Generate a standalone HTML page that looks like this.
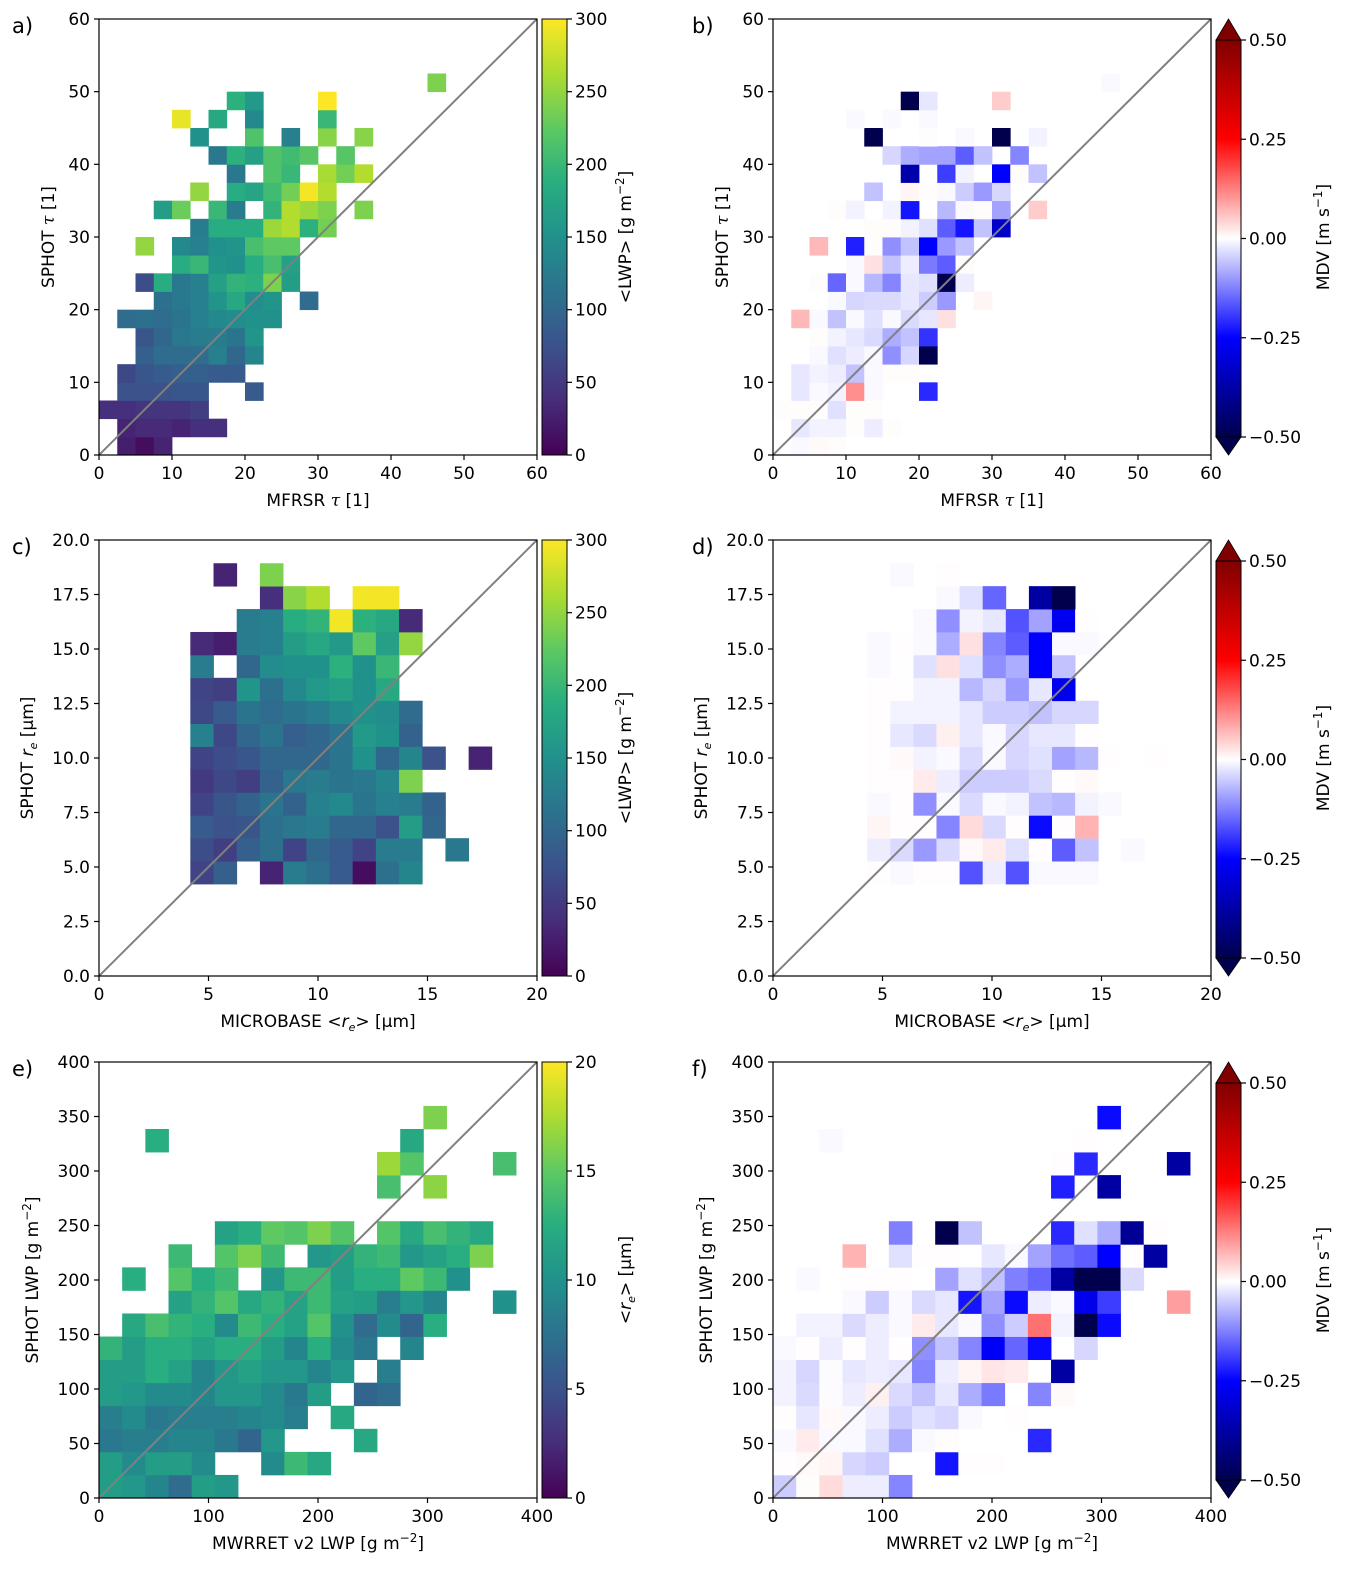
<!DOCTYPE html>
<html><head><meta charset="utf-8">
<style>
html,body{margin:0;padding:0;background:#fff;}
svg{display:block;font-family:"DejaVu Sans","Liberation Sans",sans-serif;}
</style></head>
<body>
<svg id="fig" xmlns="http://www.w3.org/2000/svg" width="1354" height="1580" viewBox="0 0 1354 1580"></svg>
<script>
// ---------- Panel a: mean LWP per (MFRSR tau, SPHOT tau) bin, rows from bottom ----------
const lwpTauRows = [
 [,25,10,30],
 [,30,35,35,30,40,40],
 [40,40,45,45,45,55],
 [,75,75,75,80,80,,,85],
 [,65,80,85,90,90,85,85],
 [,,90,105,105,105,130,100,135],
 [,,80,100,120,125,125,115,155],
 [,105,110,105,115,130,140,145,150,150],
 [,,,110,120,130,155,180,145,155,,105],
 [,,70,185,120,130,170,195,190,240,165],
 [,,,,185,200,155,150,185,210,170],
 [,,250,,140,130,150,155,210,225,225],
 [,,,,,125,185,185,185,255,265,190,235],
 [,,,165,230,,200,125,,195,265,255,240,,240],
 [,,,,,250,,185,175,205,235,295,265],
 [,,,,,,,120,,215,200,,260,235,265],
 [,,,,,,120,190,170,215,205,220,,220],
 [,,,,,150,,,215,,130,,245,,245],
 [,,,,290,,180,,140,,,,200],
 [,,,,,,,190,160,,,,300],
 [,,,,,,,,,,,,,,,,,,240]
];
// ---------- Panel b: MDV per tau bin ----------
const mdvTauRows = [
 [,-0.006,0.005,0.003],
 [,-0.024,-0.012,-0.012,0.003,-0.018,0.003],
 [0.003,0.003,0.003,-0.03,0.003,0.003],
 [,-0.024,-0.006,-0.012,0.11,-0.006,,,-0.21],
 [,-0.024,-0.012,-0.018,-0.06,-0.006,0.003,0.003],
 [,,-0.006,-0.03,-0.018,-0.006,-0.11,-0.04,-0.5],
 [,,0.003,-0.012,-0.024,-0.036,-0.08,-0.06,-0.2],
 [,0.07,-0.006,-0.06,-0.006,-0.03,-0.006,-0.036,-0.024,0.03],
 [,,,-0.006,-0.04,-0.036,-0.036,-0.024,-0.05,-0.1,,0.01],
 [,,0.003,-0.15,-0.006,-0.07,-0.12,-0.024,-0.03,-0.5,-0.018],
 [,,,,-0.006,0.03,-0.06,-0.018,-0.13,-0.16,0.003],
 [,,0.07,,-0.22,0.003,-0.11,-0.06,-0.25,-0.1,-0.06],
 [,,,,,0.003,0.003,-0.012,-0.03,-0.16,-0.23,-0.06,-0.33],
 [,,,0.003,-0.012,,-0.012,-0.23,,-0.07,-0.006,0.003,-0.09,,0.05],
 [,,,,,-0.06,,0.01,0.003,-0.006,-0.05,-0.1,-0.04],
 [,,,,,,,-0.37,,-0.19,-0.012,,-0.25,0.003,-0.06],
 [,,,,,,-0.04,-0.08,-0.09,-0.09,-0.16,-0.06,,-0.12],
 [,,,,,-0.5,,,0.003,,-0.006,,-0.5,,-0.012],
 [,,,,-0.006,,-0.006,,-0.006],
 [,,,,,,,-0.5,-0.024,,,,0.05],
 [,,,,,,,,,,,,,,,,,,-0.006]
];
// ---------- Panel c: mean LWP per (MICROBASE re, SPHOT re) bin ----------
const lwpReRows = [
 [60,90,,30,125,110,85,10,110,135],
 [70,55,90,110,60,100,85,60,125,125,,120],
 [85,75,80,110,120,125,100,100,75,165,100],
 [60,80,95,115,95,130,140,115,130,125,95],
 [50,65,55,95,120,125,115,120,135,240],
 [60,70,80,100,100,100,115,150,100,135,75,,30],
 [130,65,100,115,90,100,115,160,150,95],
 [65,85,115,105,115,125,140,150,145,105],
 [60,55,155,110,140,160,170,150,180],
 [125,,100,145,150,150,190,150,200],
 [35,25,125,130,165,180,160,225,170,250],
 [,,125,130,185,195,295,190,180,35],
 [,,,40,245,265,,295,295],
 [,30,,240]
];
// ---------- Panel d: MDV per re bin ----------
const mdvReRows = [
 [0.002,-0.006,0.002,0.002,-0.17,-0.018,-0.17,-0.006,-0.006,-0.006],
 [-0.018,-0.036,-0.1,-0.036,0.006,0.02,-0.03,0.002,-0.16,-0.06,,-0.006],
 [0.01,0.002,0.002,-0.12,0.035,-0.036,0.002,-0.24,0.002,0.075],
 [-0.006,0.002,-0.11,-0.006,-0.036,-0.006,-0.012,-0.06,-0.07,-0.012,-0.006],
 [0.002,0.002,0.02,-0.018,-0.05,-0.05,-0.05,-0.036,0.002,0.006],
 [0.002,0.006,-0.012,-0.006,-0.036,-0.006,-0.04,-0.03,-0.09,-0.07,0.002,,0.002],
 [0.002,-0.024,-0.036,0.015,-0.024,-0.006,-0.04,-0.024,-0.024,0.002],
 [0.002,-0.012,-0.012,-0.012,-0.024,-0.05,-0.05,-0.06,-0.04,-0.04],
 [0.002,0.002,-0.012,-0.012,-0.07,-0.04,-0.1,-0.024,-0.27],
 [-0.006,0.001,-0.03,0.03,-0.03,-0.11,-0.08,-0.25,-0.06],
 [-0.006,0.002,-0.006,-0.08,0.03,-0.12,-0.16,-0.25,-0.006,-0.006],
 [,,-0.006,-0.11,-0.012,-0.024,-0.17,-0.09,-0.27,0.002],
 [,,,-0.006,-0.03,-0.15,,-0.38,-0.5],
 [,-0.006,,0.002]
];
// ---------- Panel e: mean re per (MWRRET LWP, SPHOT LWP) bin ----------
const reLwpRows = [
 [11,10.5,9,7,11,10.5],
 [11,9.5,11,11,9.5,,,9.5,13.5,12],
 [8,8.5,8.5,9,9,8,6.5,10.5,,,,12],
 [8.5,9.5,8,8.5,8.5,8.5,9,9.5,8.5,,12],
 [11,10.5,9.5,9.5,9,10.5,10.5,9.5,8,11,,6.5,7],
 [11,11,12.5,11.5,9,10.5,11.5,10.5,10.5,9,10.5,,8.5],
 [13,11,12.5,12.5,11.5,12.5,12.5,11,9,12.5,9.5,8,,9],
 [,12,14,13,12.5,9.5,13.5,12.5,11.5,14.5,10,7,9.5,6.5,12.5],
 [,,,11.5,13,14.5,12,13,11.5,13.5,11.5,11,8.5,10.5,9,,,10],
 [,12.5,,14.5,12.5,13.5,,10.5,13.5,13.5,11,12.5,12.5,15,13.5,10],
 [,,,13.5,,14.5,16,13.5,,10.5,11,13,13.5,10.5,11.5,12.5,16],
 [,,,,,11.5,12.5,15,14.5,16,14.5,,14.5,12,14,13,12],
 [],
 [,,,,,,,,,,,,14,,16.5],
 [,,,,,,,,,,,,17,14.5,,,,14],
 [,,12.5,,,,,,,,,,,12],
 [,,,,,,,,,,,,,,16]
];
// ---------- Panel f: MDV per LWP bin ----------
const mdvLwpRows = [
 [-0.05,0.003,0.035,-0.018,-0.018,-0.12],
 [0.002,0.006,0.01,-0.04,-0.05,,,-0.23,0.002,0.002],
 [-0.006,0.02,-0.006,-0.006,-0.03,-0.08,-0.006,0.003,,,,-0.21],
 [0.002,-0.024,0.006,-0.006,-0.018,-0.05,-0.03,-0.04,-0.006,,0.002],
 [-0.012,-0.036,-0.003,-0.018,0.015,-0.036,-0.06,-0.024,-0.08,-0.13,,-0.12,0.006],
 [-0.012,-0.04,-0.003,-0.024,-0.018,-0.024,-0.12,-0.018,0.01,0.025,0.02,,-0.38],
 [-0.006,0.002,-0.018,0.002,-0.018,0.002,-0.11,-0.06,-0.12,-0.26,-0.15,-0.24,,-0.04],
 [,-0.012,-0.012,-0.036,-0.018,-0.006,0.02,-0.024,-0.006,-0.11,-0.05,0.14,-0.012,-0.5,-0.24],
 [,,,-0.006,-0.05,-0.006,-0.036,-0.024,-0.23,-0.09,-0.24,-0.018,-0.006,-0.28,-0.19,,,0.095],
 [,-0.006,,0.002,0.002,0.002,,-0.09,-0.03,-0.06,-0.125,-0.15,-0.38,-0.5,-0.5,-0.036],
 [,,,0.075,,-0.03,0.002,0.002,,-0.024,-0.006,-0.09,-0.14,-0.16,-0.25,0.002,-0.38],
 [,,,,,-0.125,,-0.5,-0.06,,,,-0.21,-0.03,-0.08,-0.4,0.002],
 [],
 [,,,,,,,,,,,,-0.22,,-0.38],
 [,,,,,,,,,,,,0.002,-0.21,,,,-0.38],
 [,,-0.006,,,,,,,,,,,0.002],
 [,,,,,,,,,,,,,,-0.24]
];
// ---------- tick labels ----------
const tauTicks = [0,10,20,30,40,50,60];
const reXTicks = [0,5,10,15,20];
const reYTicks = [0,2.5,5,7.5,10,12.5,15,17.5,20];
const lwpXTicks = [0,100,200,300,400];
const lwpYTicks = [0,50,100,150,200,250,300,350,400];
const lwpCbarTicks = [0,50,100,150,200,250,300];
const reCbarTicks = [0,5,10,15,20];
const mdvCbarTicks = [-0.5,-0.25,0,0.25,0.5];

const NS = "http://www.w3.org/2000/svg";
const svg = document.getElementById('fig');
function mk(tag, attrs, parent){
  const e = document.createElementNS(NS, tag);
  for (const k in attrs) e.setAttribute(k, attrs[k]);
  (parent||svg).appendChild(e);
  return e;
}
function hex(c){return [parseInt(c.slice(1,3),16),parseInt(c.slice(3,5),16),parseInt(c.slice(5,7),16)];}
const VIR = ['#440154','#472d7b','#3b528b','#2c728e','#21918c','#28ae80','#5ec962','#addc30','#fde725'].map(hex);
const SEIS = [[0,0,77],[0,0,255],[255,255,255],[255,0,0],[128,0,0]];
function interp(stops, t){
  t = Math.max(0, Math.min(1, t));
  const n = stops.length-1, f = t*n, i = Math.min(n-1, Math.floor(f)), u = f-i;
  const a = stops[i], b = stops[i+1];
  return 'rgb(' + a.map((v,k)=>Math.round(v+(b[k]-v)*u)).join(',') + ')';
}
const viridis = t => interp(VIR, t);
const seismic = t => interp(SEIS, t);
function fmt(v, dec){ const s = v.toFixed(dec); return s.replace('-', '\u2212'); }

let gradId = 0;
function panel(p){
  const g = mk('g', {});
  
  
  const L = p.L, R = p.R, T = p.T, B = p.B;
  const sx = v => L + (v - p.xmin)/(p.xmax - p.xmin)*(R - L);
  const sy = v => B - (v - p.ymin)/(p.ymax - p.ymin)*(B - T);
  const cid = 'clip' + p.name;
  const cp = mk('clipPath', {id: cid}, g);
  mk('rect', {x:L, y:T, width:R-L, height:B-T}, cp);
  const cells = mk('g', {'clip-path':'url(#'+cid+')'}, g);
  
  
  p.rows.forEach((row, r) => {
    for (let c = 0; c < row.length; c++){
      const v = row[c];
      if (v == null) continue;
      const x1 = sx(p.x0 + c*p.dx), x2 = sx(p.x0 + (c+1)*p.dx);
      const y1 = sy(p.y0 + (r+1)*p.dy), y2 = sy(p.y0 + r*p.dy);
      const rect = mk('rect', {x:x1.toFixed(2), y:y1.toFixed(2), width:(x2-x1+0.4).toFixed(2), height:(y2-y1+0.4).toFixed(2), fill:p.cmap((v - p.vmin)/(p.vmax - p.vmin))}, cells);
      
      
    }
  });
  const diag = mk('line', {x1:sx(p.xmin), y1:sy(p.ymin), x2:sx(p.xmax), y2:sy(p.ymax), stroke:'#808080', 'stroke-width':2, 'clip-path':'url(#'+cid+')'}, g);
  
  
  const frame = mk('rect', {x:L, y:T, width:R-L, height:B-T, fill:'none', stroke:'#000', 'stroke-width':1.2}, g);
  
  
  p.xticks.forEach(v => {
    const x = sx(v);
    mk('line', {x1:x, y1:B, x2:x, y2:B+5, stroke:'#000', 'stroke-width':1.2}, g);
    const t = mk('text', {x:x, y:B+24, 'text-anchor':'middle', 'font-size':17}, g);
    t.textContent = fmt(v, p.xdec);
    
    
  });
  p.yticks.forEach(v => {
    const y = sy(v);
    mk('line', {x1:L-5, y1:y, x2:L, y2:y, stroke:'#000', 'stroke-width':1.2}, g);
    const t = mk('text', {x:L-9, y:y+6, 'text-anchor':'end', 'font-size':17}, g);
    t.textContent = fmt(v, p.ydec);
    
    
  });
  const xl = mk('text', {x:(L+R)/2, y:B+51, 'text-anchor':'middle', 'font-size':17}, g);
  xl.innerHTML = p.xlabel;
  
  
  const yl = mk('text', {x:0, y:0, 'text-anchor':'middle', 'font-size':17, transform:'translate('+p.ylx+','+((T+B)/2)+') rotate(-90)'}, g);
  yl.innerHTML = p.ylabel;
  
  
  const lt = mk('text', {x:p.letterX, y:T+14, 'font-size':21}, g);
  lt.textContent = p.letter;
  
  

  // colorbar
  const cb = mk('g', {}, g);
  
  
  const id = 'grad' + (gradId++);
  const lg = mk('linearGradient', {id:id, x1:0, y1:1, x2:0, y2:0}, cb);
  for (let i = 0; i <= 40; i++) mk('stop', {offset:(i/40), 'stop-color':p.cmap(i/40)}, lg);
  const cL = p.cbL, cR = p.cbL + 25;
  let bT = T, bB = B;
  if (p.extend){
    bT = T + 21; bB = B - 18;
    mk('polygon', {points:cL+','+bT+' '+(cL+cR)/2+','+T+' '+cR+','+bT, fill:p.cmap(1), stroke:'#000', 'stroke-width':0.8}, cb);
    mk('polygon', {points:cL+','+bB+' '+(cL+cR)/2+','+B+' '+cR+','+bB, fill:p.cmap(0), stroke:'#000', 'stroke-width':0.8}, cb);
  }
  mk('rect', {x:cL, y:bT, width:25, height:bB-bT, fill:'url(#'+id+')', stroke:'#000', 'stroke-width':1}, cb);
  const cy = v => bB - (v - p.vmin)/(p.vmax - p.vmin)*(bB - bT);
  p.cbTicks.forEach(v => {
    const y = cy(v);
    mk('line', {x1:cR, y1:y, x2:cR+5, y2:y, stroke:'#000', 'stroke-width':1.2}, cb);
    const t = mk('text', {x:cR+8, y:y+6, 'font-size':17}, cb);
    t.textContent = fmt(v, p.cbDec);
    
    
  });
  const cl = mk('text', {x:0, y:0, 'text-anchor':'middle', 'font-size':17, transform:'translate('+p.cbLabelX+','+((T+B)/2)+') rotate(-90)'}, cb);
  cl.innerHTML = p.cbLabel;
  
  
}

const TAU = '<tspan font-family="DejaVu Serif, serif" font-style="italic">τ</tspan>';
const RE = '<tspan font-style="italic">r</tspan><tspan font-style="italic" font-size="11" dy="4">e</tspan><tspan dy="-4">';
const LWPU = '[g m<tspan font-size="12" dy="-7">−2</tspan><tspan dy="7">]</tspan>';
const LWPLAB = '&lt;LWP&gt; ' + LWPU;
const MDVLAB = 'MDV [m s<tspan font-size="12" dy="-7">−1</tspan><tspan dy="7">]</tspan>';
const RELAB = '&lt;' + RE + '&gt;</tspan> [µm]';

const colL = {L:99, R:537, cbL:542, letterX:12, cbLabelX:631};
const colR = {L:773, R:1211, cbL:1216, letterX:692, cbLabelX:1329};
const rowT = [[19,455],[540,976],[1062,1498]];

function base(col, row){ return Object.assign({}, col, {T:rowT[row][0], B:rowT[row][1]}); }

panel(Object.assign(base(colL,0), {name:'panel-a', letter:'a)', rows:lwpTauRows, xmin:0,xmax:60,ymin:0,ymax:60, x0:0,dx:2.5,y0:0,dy:2.5,
  xticks:tauTicks, yticks:tauTicks, xdec:0, ydec:0, cmap:viridis, vmin:0, vmax:300, extend:false, cbTicks:lwpCbarTicks, cbDec:0,
  xlabel:'MFRSR '+TAU+' [1]', ylabel:'SPHOT '+TAU+' [1]', ylx:54, cbLabel:LWPLAB}));
panel(Object.assign(base(colR,0), {name:'panel-b', letter:'b)', rows:mdvTauRows, xmin:0,xmax:60,ymin:0,ymax:60, x0:0,dx:2.5,y0:0,dy:2.5,
  xticks:tauTicks, yticks:tauTicks, xdec:0, ydec:0, cmap:seismic, vmin:-0.5, vmax:0.5, extend:true, cbTicks:mdvCbarTicks, cbDec:2,
  xlabel:'MFRSR '+TAU+' [1]', ylabel:'SPHOT '+TAU+' [1]', ylx:728, cbLabel:MDVLAB}));
panel(Object.assign(base(colL,1), {name:'panel-c', letter:'c)', rows:lwpReRows, xmin:0,xmax:20,ymin:0,ymax:20, x0:4.17,dx:1.059,y0:4.22,dy:1.051,
  xticks:reXTicks, yticks:reYTicks, xdec:0, ydec:1, cmap:viridis, vmin:0, vmax:300, extend:false, cbTicks:lwpCbarTicks, cbDec:0,
  xlabel:'MICROBASE &lt;'+RE+'&gt;</tspan> [µm]', ylabel:'SPHOT '+RE+' [µm]</tspan>', ylx:33, cbLabel:LWPLAB}));
panel(Object.assign(base(colR,1), {name:'panel-d', letter:'d)', rows:mdvReRows, xmin:0,xmax:20,ymin:0,ymax:20, x0:4.3,dx:1.055,y0:4.22,dy:1.051,
  xticks:reXTicks, yticks:reYTicks, xdec:0, ydec:1, cmap:seismic, vmin:-0.5, vmax:0.5, extend:true, cbTicks:mdvCbarTicks, cbDec:2,
  xlabel:'MICROBASE &lt;'+RE+'&gt;</tspan> [µm]', ylabel:'SPHOT '+RE+' [µm]</tspan>', ylx:707, cbLabel:MDVLAB}));
panel(Object.assign(base(colL,2), {name:'panel-e', letter:'e)', rows:reLwpRows, xmin:0,xmax:400,ymin:0,ymax:400, x0:0,dx:21.16,y0:0,dy:21.16,
  xticks:lwpXTicks, yticks:lwpYTicks, xdec:0, ydec:0, cmap:viridis, vmin:0, vmax:20, extend:false, cbTicks:reCbarTicks, cbDec:0,
  xlabel:'MWRRET v2 LWP '+LWPU, ylabel:'SPHOT LWP '+LWPU, ylx:38, cbLabel:RELAB}));
panel(Object.assign(base(colR,2), {name:'panel-f', letter:'f)', rows:mdvLwpRows, xmin:0,xmax:400,ymin:0,ymax:400, x0:0,dx:21.16,y0:0,dy:21.16,
  xticks:lwpXTicks, yticks:lwpYTicks, xdec:0, ydec:0, cmap:seismic, vmin:-0.5, vmax:0.5, extend:true, cbTicks:mdvCbarTicks, cbDec:2,
  xlabel:'MWRRET v2 LWP '+LWPU, ylabel:'SPHOT LWP '+LWPU, ylx:712, cbLabel:MDVLAB}));
</script>
</body></html>
